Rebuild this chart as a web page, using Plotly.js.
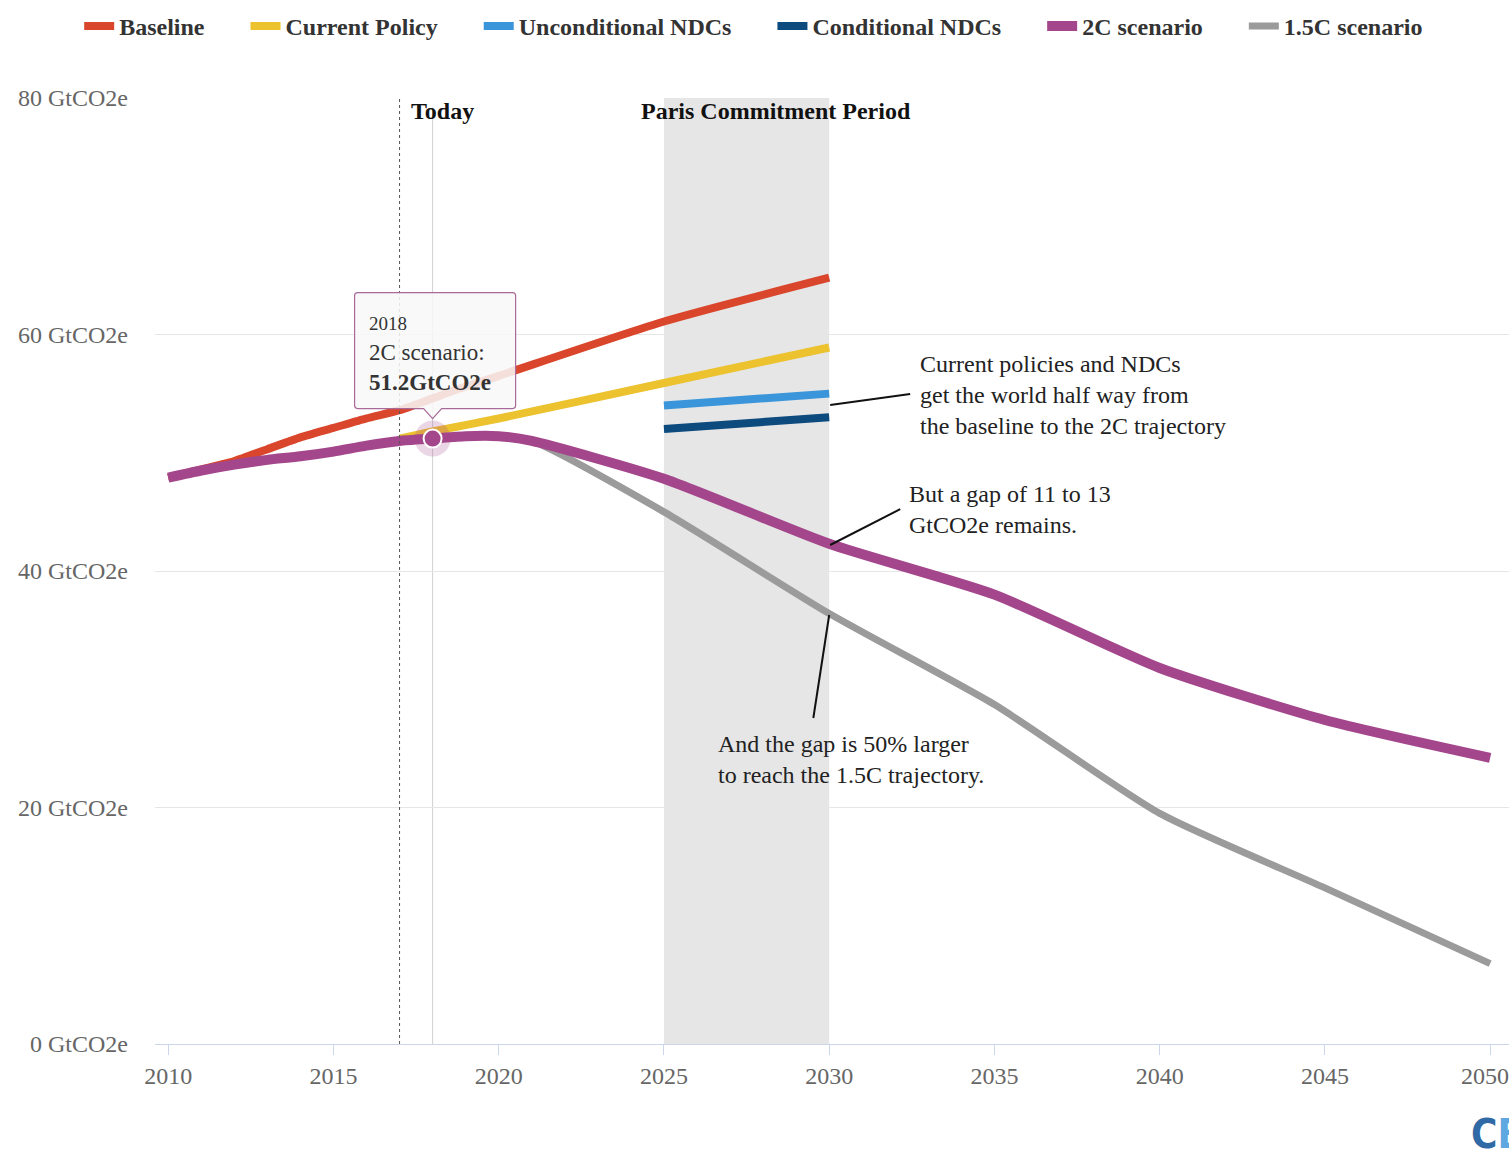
<!DOCTYPE html>
<html>
<head>
<meta charset="utf-8">
<script src="https://cdn.plot.ly/plotly-3.0.1.min.js"></script>
<style>html,body{margin:0;padding:0;background:#fff;}#chart{width:1509px;height:1159px;}</style>
</head>
<body>
<div id="chart"></div>
<script>
// ---- data (GtCO2e) ----
var baselineYears = [2010, 2011, 2012, 2013, 2014, 2015, 2016, 2017, 2018, 2019, 2020, 2025, 2030];
var baselineVals  = [47.9, 48.6, 49.3, 50.3, 51.3, 52.1, 52.9, 53.6, 54.6, 55.6, 56.5, 61.1, 64.8];

var currentYears = [2017, 2018, 2020, 2025, 2030];
var currentVals  = [51.2, 51.8, 52.9, 55.9, 58.9];

var uncondYears = [2025, 2030];
var uncondVals  = [54.0, 55.0];

var condYears = [2025, 2030];
var condVals  = [52.0, 53.0];

var c2Years = [2010, 2011, 2012, 2013, 2014, 2015, 2016, 2017, 2018, 2019, 2020, 2021, 2025, 2030, 2035, 2040, 2045, 2050];
var c2Vals  = [47.9, 48.5, 49.0, 49.4, 49.7, 50.1, 50.6, 51.0, 51.2, 51.4, 51.4, 51.0, 47.8, 42.3, 38.0, 31.8, 27.4, 24.2];

var c15Years = [2010, 2011, 2012, 2013, 2014, 2015, 2016, 2017, 2018, 2019, 2020, 2021, 2025, 2030, 2035, 2040, 2045, 2050];
var c15Vals  = [47.9, 48.5, 49.0, 49.4, 49.7, 50.1, 50.6, 51.0, 51.2, 51.4, 51.4, 51.0, 45.0, 36.4, 28.7, 19.5, 13.2, 6.8];

var xTicks = [2010, 2015, 2020, 2025, 2030, 2035, 2040, 2045, 2050];
var yTicks = [0, 20, 40, 60, 80];
var yTickText = ['0 GtCO2e', '20 GtCO2e', '40 GtCO2e', '60 GtCO2e', '80 GtCO2e'];

var hoverYear = 2018;
var hoverVal = 51.2;
var todayYear = 2017;
var parisStart = 2025, parisEnd = 2030;

var NB = '\u00a0\u00a0\u00a0\u00a0\u00a0\u00a0';
var SERIF = '"Liberation Serif", "Times New Roman", serif';

// x tick labels: last one is drawn as an annotation nudged inside the page edge
var lastTick = xTicks[xTicks.length - 1];
var xTickText = xTicks.map(function (t) { return t === lastTick ? '' : String(t); });

function line(name, xs, ys, color, width, rank) {
  return {type: 'scatter', mode: 'lines', name: name + NB, x: xs, y: ys,
    line: {color: color, width: width, shape: 'spline', smoothing: 0.6},
    legendrank: rank, hoverinfo: 'skip'};
}

var traces = [
  line('1.5C scenario', c15Years, c15Vals, '#9b9b9b', 7, 6),
  line('Baseline', baselineYears, baselineVals, '#d9462b', 8, 1),
  line('Current Policy', currentYears, currentVals, '#ecc22f', 8, 2),
  line('Unconditional NDCs', uncondYears, uncondVals, '#3a95da', 8, 3),
  line('Conditional NDCs', condYears, condVals, '#0d4a7e', 8, 4),
  line('2C scenario', c2Years, c2Vals, '#a4468b', 10, 5),
  {type: 'scatter', mode: 'markers', x: [hoverYear], y: [hoverVal], showlegend: false, hoverinfo: 'skip',
    marker: {size: 36, color: 'rgba(164,70,139,0.22)'}},
  {type: 'scatter', mode: 'markers', x: [hoverYear], y: [hoverVal], showlegend: false, hoverinfo: 'skip',
    marker: {size: 18, color: '#a4468b', line: {color: '#fff', width: 2}}}
];

var layout = {
  width: 1509, height: 1159,
  margin: {l: 155, r: 0, t: 98, b: 115},
  paper_bgcolor: '#fff', plot_bgcolor: '#fff',
  font: {family: SERIF, size: 24, color: '#333'},
  showlegend: true,
  legend: {orientation: 'h', x: -0.056, xanchor: 'left', y: 1.0995, yanchor: 'top',
    font: {family: SERIF, size: 24, color: '#333', weight: 'bold'}, bgcolor: 'rgba(0,0,0,0)'},
  xaxis: {range: [2009.6, 2050.57], tickmode: 'array', tickvals: xTicks, ticktext: xTickText,
    ticks: 'outside', ticklen: 10, tickcolor: '#ccd6eb',
    showline: true, linecolor: '#ccd6eb', linewidth: 1, showgrid: false, zeroline: false,
    ticklabeloverflow: 'allow',
    tickfont: {family: SERIF, size: 24, color: '#666'}, fixedrange: true},
  yaxis: {range: [0, 80], tickmode: 'array', tickvals: yTicks, ticktext: yTickText, ticks: '', ticklabelstandoff: 26,
    gridcolor: '#e6e6e6', gridwidth: 1, zeroline: false, showline: false,
    ticklabeloverflow: 'allow',
    tickfont: {family: SERIF, size: 24, color: '#666'}, fixedrange: true},
  shapes: [
    {type: 'rect', xref: 'x', yref: 'paper', x0: parisStart, x1: parisEnd, y0: 0, y1: 1,
      fillcolor: '#e6e6e6', line: {width: 0}, layer: 'between'},
    {type: 'line', xref: 'x', yref: 'paper', x0: hoverYear, x1: hoverYear, y0: 0, y1: 0.99,
      line: {color: '#d0d0d0', width: 1}, layer: 'between'},
    {type: 'line', xref: 'x', yref: 'paper', x0: todayYear, x1: todayYear, y0: 0, y1: 1,
      line: {color: '#555', width: 1, dash: '3px,3px'}, layer: 'above'},
    // callout lines
    {type: 'line', xref: 'x', yref: 'y', x0: 2030.03, y0: 54.04, x1: 2032.45, y1: 54.97,
      line: {color: '#111', width: 2}, layer: 'above'},
    {type: 'line', xref: 'x', yref: 'y', x0: 2030.03, y0: 42.2, x1: 2032.15, y1: 45.24,
      line: {color: '#111', width: 2}, layer: 'above'},
    {type: 'line', xref: 'x', yref: 'y', x0: 2030.0, y0: 36.28, x1: 2029.52, y1: 27.57,
      line: {color: '#111', width: 2}, layer: 'above'},
    // tooltip box
    {type: 'path', xref: 'x', yref: 'y', xsizemode: 'pixel', ysizemode: 'pixel',
      xanchor: hoverYear, yanchor: hoverVal,
      path: 'M -75,146 H 80 Q 83,146 83,143 V 33 Q 83,30 80,30 H 9 L 0,20 L -9,30 H -75 Q -78,30 -78,33 V 143 Q -78,146 -75,146 Z',
      fillcolor: 'rgba(248,248,248,0.86)', line: {color: '#a86a98', width: 1.2}, layer: 'above'}
  ],
  annotations: [
    {xref: 'x', yref: 'paper', x: lastTick, y: 0, xanchor: 'center', yanchor: 'top', xshift: -5, yshift: -17,
      showarrow: false, text: String(lastTick), font: {family: SERIF, size: 24, color: '#666'}},
    {xref: 'x', yref: 'y', x: hoverYear, y: hoverVal, xanchor: 'left', yanchor: 'top', xshift: -66, yshift: 128,
      showarrow: false, align: 'left',
      text: '<span style="font-size:19px">2018</span><br>2C scenario:<br><b>51.2GtCO2e</b>',
      font: {family: SERIF, size: 23, color: '#333'}},
    {xref: 'x', yref: 'paper', x: 2017.28, y: 1.0, xanchor: 'left', yanchor: 'top', yshift: 2, showarrow: false,
      text: '<b>Today</b>', font: {family: SERIF, size: 24, color: '#111'}},
    {xref: 'x', yref: 'paper', x: 2024.24, y: 1.0, xanchor: 'left', yanchor: 'top', yshift: 2, showarrow: false,
      text: '<b>Paris Commitment Period</b>', font: {family: SERIF, size: 24, color: '#111'}},
    {xref: 'x', yref: 'y', x: 2032.69, y: 54.9, xanchor: 'left', yanchor: 'middle', showarrow: false, align: 'left',
      text: 'Current policies and NDCs<br>get the world half way from<br>the baseline to the 2C trajectory',
      font: {family: SERIF, size: 24, color: '#222'}},
    {xref: 'x', yref: 'y', x: 2032.36, y: 45.16, xanchor: 'left', yanchor: 'middle', showarrow: false, align: 'left',
      text: 'But a gap of 11 to 13<br>GtCO2e remains.',
      font: {family: SERIF, size: 24, color: '#222'}},
    {xref: 'x', yref: 'y', x: 2026.58, y: 24.02, xanchor: 'left', yanchor: 'middle', showarrow: false, align: 'left',
      text: 'And the gap is 50% larger<br>to reach the 1.5C trajectory.',
      font: {family: SERIF, size: 24, color: '#222'}},
    {xref: 'paper', yref: 'paper', x: (1469 - 155) / 1354, y: (1044 - 1159) / 946, xanchor: 'left', yanchor: 'bottom',
      showarrow: false,
      text: '<b><span style="color:#2f6aa6">C</span><span style="color:#5ea7e0">B</span></b>',
      font: {family: '"Liberation Sans Narrow", "DejaVu Sans Condensed", sans-serif', size: 40}}
  ]
};

Plotly.newPlot('chart', traces, layout, {displayModeBar: false, staticPlot: true});
</script>
</body>
</html>
